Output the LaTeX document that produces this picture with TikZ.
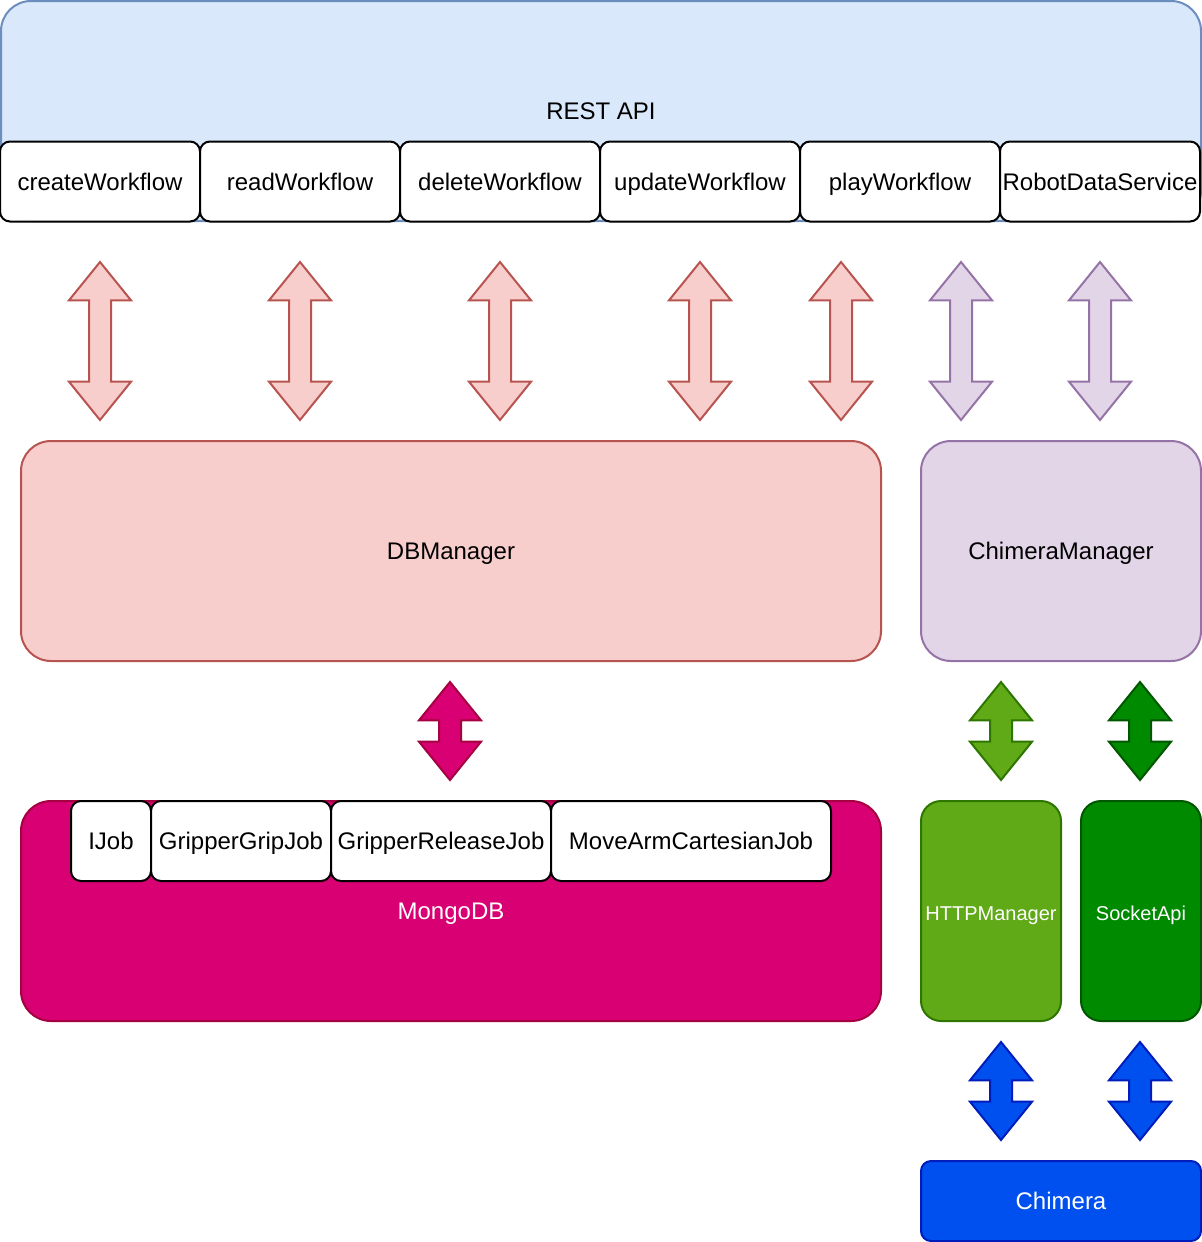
\documentclass[tikz,border=0pt]{standalone}
\usepackage{fontspec}
\setmainfont{Liberation Sans}
\usetikzlibrary{shapes.arrows}
\definecolor{restfill}{HTML}{DAE8FC}
\definecolor{restline}{HTML}{6C8EBF}
\definecolor{dbfill}{HTML}{F8CECC}
\definecolor{dbline}{HTML}{B85450}
\definecolor{chifill}{HTML}{E1D5E7}
\definecolor{chiline}{HTML}{9673A6}
\definecolor{mongofill}{HTML}{D80073}
\definecolor{mongoline}{HTML}{A50040}
\definecolor{httpfill}{HTML}{60A917}
\definecolor{httpline}{HTML}{2D7600}
\definecolor{sockfill}{HTML}{008A00}
\definecolor{sockline}{HTML}{005700}
\definecolor{robofill}{HTML}{0050EF}
\definecolor{roboline}{HTML}{001DBC}

\tikzset{
  box/.style={draw, line width=1pt, rounded corners=5pt, inner sep=0pt,
    font=\fontsize{12}{14}\selectfont, text height=9.8pt, text depth=1pt},
  smallbox/.style={box, rounded corners=10pt, text=white, font=\fontsize{10}{12}\selectfont,
    text height=9pt, text depth=0pt, minimum height=110pt},
  bigbox/.style={box, rounded corners=15pt, minimum height=110pt},
  bigarrow/.style={double arrow, draw, line width=1pt, rotate=90, inner sep=5pt,
    double arrow head extend=10pt, double arrow tip angle=78, minimum height=79pt},
  smallarrow/.style={bigarrow, minimum height=49pt}
}

\begin{document}
\begin{tikzpicture}[x=0.5pt, y=-0.5pt]
\useasboundingbox (0,0) rectangle (1202,1242);

% top layer
\node (rest) [bigbox, fill=restfill, draw=restline, minimum width=600pt] at (601,111) {REST API};
\node (create) [box, fill=white, minimum width=100pt, minimum height=40pt] at (100,181.5) {createWorkflow};
\node (read) [box, fill=white, minimum width=100pt, minimum height=40pt] at (300,181.5) {readWorkflow};
\node (delete) [box, fill=white, minimum width=100pt, minimum height=40pt] at (500,181.5) {deleteWorkflow};
\node (update) [box, fill=white, minimum width=100pt, minimum height=40pt] at (700,181.5) {updateWorkflow};
\node (play) [box, fill=white, minimum width=100pt, minimum height=40pt] at (900,181.5) {playWorkflow};
\node (robotdata) [box, fill=white, minimum width=100pt, minimum height=40pt] at (1100,181.5) {RobotDataService};

\node (arrcreate) [bigarrow, fill=dbfill, draw=dbline] at (100,341) {};
\node (arrread) [bigarrow, fill=dbfill, draw=dbline] at (300,341) {};
\node (arrdelete) [bigarrow, fill=dbfill, draw=dbline] at (500,341) {};
\node (arrupdate) [bigarrow, fill=dbfill, draw=dbline] at (700,341) {};
\node (arrplay) [bigarrow, fill=dbfill, draw=dbline] at (841,341) {};
\node (arrplaychi) [bigarrow, fill=chifill, draw=chiline] at (961,341) {};
\node (arrrobot) [bigarrow, fill=chifill, draw=chiline] at (1100,341) {};

% managers
\node (db) [bigbox, fill=dbfill, draw=dbline, minimum width=430pt] at (451,551) {DBManager};
\node (chimeramgr) [bigbox, fill=chifill, draw=chiline, minimum width=140pt] at (1061,551) {ChimeraManager};

\node (arrmongo) [smallarrow, fill=mongofill, draw=mongoline] at (450,731) {};
\node (arrhttp) [smallarrow, fill=httpfill, draw=httpline] at (1001,731) {};
\node (arrsock) [smallarrow, fill=sockfill, draw=sockline] at (1140,731) {};

% storage and drivers
\node (mongo) [bigbox, fill=mongofill, draw=mongoline, text=white, minimum width=430pt] at (451,911) {MongoDB};
\node (ijob) [box, fill=white, minimum width=40pt, minimum height=40pt] at (111,841) {IJob};
\node (gripjob) [box, fill=white, minimum width=90pt, minimum height=40pt] at (241,841) {GripperGripJob};
\node (releasejob) [box, fill=white, minimum width=110pt, minimum height=40pt] at (441,841) {GripperReleaseJob};
\node (movejob) [box, fill=white, minimum width=140pt, minimum height=40pt] at (691,841) {MoveArmCartesianJob};

\node (http) [smallbox, fill=httpfill, draw=httpline, minimum width=70pt] at (991,911) {HTTPManager};
\node (socket) [smallbox, fill=sockfill, draw=sockline, minimum width=60pt] at (1141,911) {SocketApi};

\node (arrhttpbot) [smallarrow, fill=robofill, draw=roboline] at (1001,1091) {};
\node (arrsockbot) [smallarrow, fill=robofill, draw=roboline] at (1140,1091) {};

\node (chimera) [box, fill=robofill, draw=roboline, text=white, minimum width=140pt, minimum height=40pt] at (1061,1201) {Chimera};
\end{tikzpicture}
\end{document}
